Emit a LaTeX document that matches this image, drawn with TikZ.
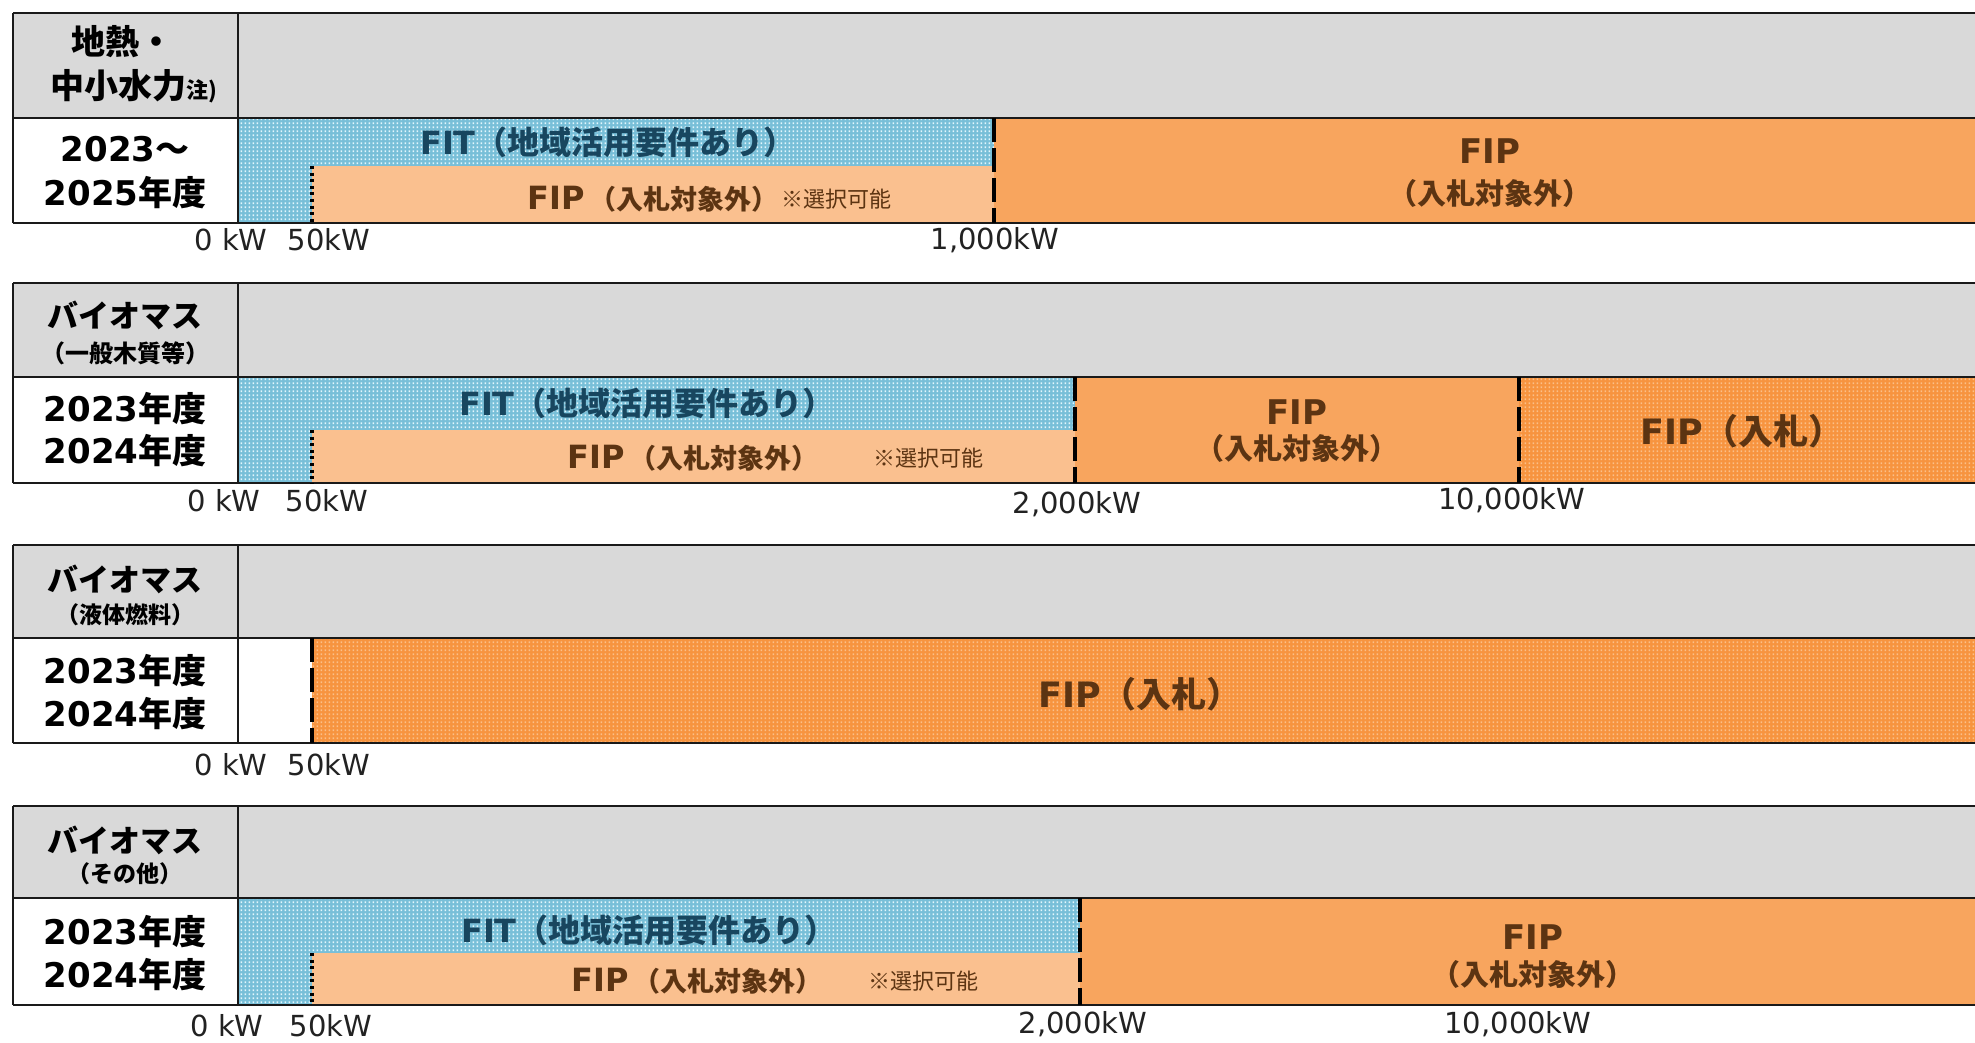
\documentclass[tikz,border=0pt]{standalone}
\usepackage{fontspec}
\setmainfont{DejaVu Sans}
\newfontfamily\jp{Noto Sans CJK JP}
\usetikzlibrary{patterns}
\definecolor{hdrgray}{HTML}{D9D9D9}
\definecolor{fitblue}{HTML}{78BFD8}
\definecolor{fitdot}{HTML}{E2F6FC}
\definecolor{fiplight}{HTML}{FAC08F}
\definecolor{fiporange}{HTML}{F8A55E}
\definecolor{bidorange}{HTML}{F7943F}
\definecolor{biddot}{HTML}{FBBF88}
\definecolor{fittext}{HTML}{18465F}
\definecolor{fiptext}{HTML}{5C3412}
\definecolor{rulecol}{HTML}{1A1A1A}
\definecolor{axiscol}{HTML}{222222}
\pgfdeclarepatternformonly{finedots}{\pgfpointorigin}{\pgfpoint{2pt}{2.2pt}}{\pgfpoint{2pt}{2.2pt}}{\pgfpathrectangle{\pgfpoint{0.45pt}{0.55pt}}{\pgfpoint{0.95pt}{0.9pt}}\pgfusepath{fill}}
\newcommand\J[1]{{\jp #1}}
\newcommand\fs[1]{\fontsize{#1}{#1}\selectfont}
\tikzset{
  hdrfill/.style={fill=hdrgray},
  fitfill/.style={fill=fitblue, postaction={pattern=finedots, pattern color=fitdot}},
  lightfill/.style={fill=fiplight},
  orangefill/.style={fill=fiporange},
  bidfill/.style={fill=bidorange, postaction={pattern=finedots, pattern color=biddot}},
  gridline/.style={draw=rulecol, line width=1.3pt},
  boundline/.style={draw=black, line width=2.3pt, dash pattern=on 12pt off 3pt},
  dotline/.style={draw=black, line width=2pt, dash pattern=on 1.5pt off 1.8pt},
  catlbl/.style={inner sep=0, font=\bfseries\fs{17}, text=black},
  sublbl/.style={inner sep=0, font=\bfseries\fs{11.5}, text=black},
  yrlbl/.style={inner sep=0, font=\bfseries\fs{17}, text=black},
  fittxt/.style={inner sep=0, font=\bfseries\fs{16}, text=fittext},
  fiptxt/.style={inner sep=0, font=\bfseries\fs{16}, text=fiptext},
  fipbig/.style={inner sep=0, font=\bfseries\fs{17}, text=fiptext},
  fipsub/.style={inner sep=0, font=\bfseries\fs{14.5}, text=fiptext},
  fipbid/.style={inner sep=0, font=\bfseries\fs{17.5}, text=fiptext},
  seltxt/.style={inner sep=0, font=\fs{11}, text=fiptext},
  axislbl/.style={inner sep=0, font=\fs{14.5}, text=axiscol},
}
\begin{document}
\begin{tikzpicture}[x=0.5pt,y=-0.5pt]
\useasboundingbox (0,0) rectangle (1975,1043);
\fill[white] (0,0) rectangle (1975,1043);

% ---------- Section 1 ----------
\path[hdrfill] (13,13) rectangle (1975,118);
\path[fitfill] (238,118) rectangle (994,223);
\path[lightfill] (312,166) rectangle (994,223);
\path[orangefill] (994,118) rectangle (1975,223);
\draw[gridline] (13,13) -- (1975,13) (13,118) -- (1975,118) (13,223) -- (1975,223)
  (13,13) -- (13,223) (238,13) -- (238,223);
\coordinate (s1a) at (312,166); \coordinate (s1b) at (312,223);
\coordinate (s1c) at (994,118); \coordinate (s1d) at (994,223);
\draw[dotline] (s1a) -- (s1b);
\draw[boundline] (s1c) -- (s1d);
\node[catlbl] (c1a) at (122,42) {\J{地熱・}};
\node[catlbl, anchor=west] (c1b) at (50,86) {\J{中小水力}{\fs{11}\J{注)}}};
\node[yrlbl] (y1a) at (125,149) {2023\J{～}};
\node[yrlbl] (y1b) at (125,193) {2025\J{年度}};
\node[fittxt] (t1a) at (608,142) {FIT\J{（地域活用要件あり）}};
\node[fiptxt, anchor=west] (t1b) at (527,199) {FIP\,{\fs{13.5}\J{（入札対象外）}}};
\node[seltxt, anchor=west] (t1c) at (781,199) {\J{※選択可能}};
\node[fipbig] (t1d) at (1490,151) {FIP};
\node[fipsub] (t1e) at (1490,193) {\J{（入札対象外）}};
\node[axislbl] (a1a) at (231,240) {0 kW};
\node[axislbl] (a1b) at (329,240) {50kW};
\node[axislbl] (a1c) at (995,240) {1,000kW};

% ---------- Section 2 ----------
\path[hdrfill] (13,283) rectangle (1975,377);
\path[fitfill] (238,377) rectangle (1075,483);
\path[lightfill] (312,430) rectangle (1075,483);
\path[orangefill] (1075,377) rectangle (1519,483);
\path[bidfill] (1519,377) rectangle (1975,483);
\draw[gridline] (13,283) -- (1975,283) (13,377) -- (1975,377) (13,483) -- (1975,483)
  (13,283) -- (13,483) (238,283) -- (238,483);
\coordinate (s2a) at (312,430); \coordinate (s2b) at (312,483);
\coordinate (s2c) at (1075,377); \coordinate (s2d) at (1075,483);
\coordinate (s2e) at (1519,377); \coordinate (s2f) at (1519,483);
\draw[dotline] (s2a) -- (s2b);
\draw[boundline] (s2c) -- (s2d);
\draw[boundline] (s2e) -- (s2f);
\node[catlbl, font=\bfseries\fs{15.5}] (c2a) at (125,315) {\J{バイオマス}};
\node[sublbl, font=\bfseries\fs{12}] (c2b) at (125,353) {\J{（一般木質等）}};
\node[yrlbl] (y2a) at (125,409) {2023\J{年度}};
\node[yrlbl] (y2b) at (125,451) {2024\J{年度}};
\node[fittxt] (t2a) at (647,403) {FIT\J{（地域活用要件あり）}};
\node[fiptxt, anchor=west] (t2b) at (567,458) {FIP\,{\fs{13.5}\J{（入札対象外）}}};
\node[seltxt, anchor=west] (t2c) at (873,458) {\J{※選択可能}};
\node[fipbig] (t2d) at (1297,412) {FIP};
\node[fipsub] (t2e) at (1297,448) {\J{（入札対象外）}};
\node[fipbid] (t2f) at (1742,431) {FIP\J{（入札）}};
\node[axislbl] (a2a) at (224,501) {0 kW};
\node[axislbl] (a2b) at (327,501) {50kW};
\node[axislbl] (a2c) at (1077,504) {2,000kW};
\node[axislbl] (a2d) at (1512,500) {10,000kW};

% ---------- Section 3 ----------
\path[hdrfill] (13,545) rectangle (1975,638);
\path[bidfill] (312,638) rectangle (1975,743);
\draw[gridline] (13,545) -- (1975,545) (13,638) -- (1975,638) (13,743) -- (1975,743)
  (13,545) -- (13,743) (238,545) -- (238,743);
\coordinate (s3a) at (312,638); \coordinate (s3b) at (312,743);
\draw[boundline] (s3a) -- (s3b);
\node[catlbl, font=\bfseries\fs{15.5}] (c3a) at (125,579) {\J{バイオマス}};
\node[sublbl] (c3b) at (125,615) {\J{（液体燃料）}};
\node[yrlbl] (y3a) at (125,671) {2023\J{年度}};
\node[yrlbl] (y3b) at (125,714) {2024\J{年度}};
\node[fipbid] (t3a) at (1140,694) {FIP\J{（入札）}};
\node[axislbl] (a3a) at (231,765) {0 kW};
\node[axislbl] (a3b) at (329,765) {50kW};

% ---------- Section 4 ----------
\path[hdrfill] (13,806) rectangle (1975,898);
\path[fitfill] (238,898) rectangle (1080,1005);
\path[lightfill] (312,953) rectangle (1080,1005);
\path[orangefill] (1080,898) rectangle (1975,1005);
\draw[gridline] (13,806) -- (1975,806) (13,898) -- (1975,898) (13,1005) -- (1975,1005)
  (13,806) -- (13,1005) (238,806) -- (238,1005);
\coordinate (s4a) at (312,953); \coordinate (s4b) at (312,1005);
\coordinate (s4c) at (1080,898); \coordinate (s4d) at (1080,1005);
\draw[dotline] (s4a) -- (s4b);
\draw[boundline] (s4c) -- (s4d);
\node[catlbl, font=\bfseries\fs{15.5}] (c4a) at (125,840) {\J{バイオマス}};
\node[sublbl] (c4b) at (125,874) {\J{（その他）}};
\node[yrlbl] (y4a) at (125,932) {2023\J{年度}};
\node[yrlbl] (y4b) at (125,975) {2024\J{年度}};
\node[fittxt] (t4a) at (649,930) {FIT\J{（地域活用要件あり）}};
\node[fiptxt, anchor=west] (t4b) at (571,981) {FIP\,{\fs{13.5}\J{（入札対象外）}}};
\node[seltxt, anchor=west] (t4c) at (868,981) {\J{※選択可能}};
\node[fipbig] (t4d) at (1533,937) {FIP};
\node[fipsub] (t4e) at (1533,974) {\J{（入札対象外）}};
\node[axislbl] (a4a) at (227,1026) {0 kW};
\node[axislbl] (a4b) at (331,1026) {50kW};
\node[axislbl] (a4c) at (1083,1024) {2,000kW};
\node[axislbl] (a4d) at (1518,1024) {10,000kW};
\end{tikzpicture}
\end{document}
